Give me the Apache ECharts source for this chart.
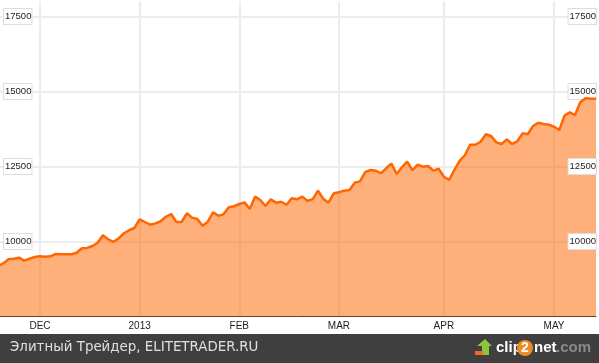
<!DOCTYPE html>
<html>
<head>
<meta charset="utf-8">
<style>
    html, body { margin: 0; padding: 0; background: #fff; }
    #main { width: 599px; height: 363px; }
</style>
<script src="https://cdn.jsdelivr.net/npm/echarts@6/dist/echarts.min.js"></script>
</head>
<body>
<div id="main"></div>
<script>
// index values, one per trading day
var values = [
    9180, 9270, 9405, 9425, 9460, 9360, 9425, 9485, 9505, 9495,
    9505, 9585, 9575, 9575, 9575, 9625, 9775, 9785, 9850, 9960,
    10205, 10075, 9985, 10105, 10275, 10375, 10450, 10740, 10650, 10560,
    10605, 10675, 10825, 10915, 10650, 10650, 10940, 10795, 10750, 10525,
    10660, 10975, 10860, 10905, 11140, 11175, 11250, 11305, 11085, 11495,
    11385, 11185, 11405, 11295, 11325, 11225, 11440, 11405, 11495, 11350,
    11415, 11695, 11425, 11295, 11605, 11640, 11695, 11715, 11960, 12005,
    12315, 12385, 12360, 12275, 12440, 12595, 12250, 12475, 12660, 12375,
    12560, 12495, 12515, 12360, 12425, 12160, 12050, 12385, 12685, 12875,
    13225, 13225, 13325, 13575, 13515, 13305, 13250, 13405, 13250, 13340,
    13605, 13575, 13850, 13960, 13915, 13895, 13825, 13715, 14195, 14305,
    14215, 14640, 14775, 14760, 14760
];
var monthLabels = ['DEC', '2013', 'FEB', 'MAR', 'APR', 'MAY'];
var monthStart = [8, 27, 46, 65, 85, 106];
var footerText = 'Элитный Трейдер, ELITETRADER.RU';

var categories = [];
for (var i = 0; i < values.length; i++) {
    var m = monthStart.indexOf(i);
    categories.push(m >= 0 ? monthLabels[m] : '');
}

function isMonth(index, value) {
    return value !== '';
}

var myChart = echarts.init(document.getElementById('main'));

var labelStyle = {
    inside: true,
    color: '#222',
    fontFamily: 'Liberation Sans',
    fontSize: 9.5,
    backgroundColor: '#fff',
    borderColor: '#ddd',
    borderWidth: 1,
    padding: [3, 0, 2, 1],
    showMinLabel: false,
    showMaxLabel: false,
    // no thousands separator on this chart
    formatter: function(value) {
        return String(value);
    }
};

var option = {
    animation: false,
    backgroundColor: '#fff',
    // outerBoundsMode none: the boxed labels may hang over the plot edge
    grid: { left: -2, top: 1.5, width: 598, height: 315, outerBoundsMode: 'none' },
    xAxis: {
        type: 'category',
        data: categories,
        boundaryGap: false,
        axisLine: { lineStyle: { color: '#333', width: 1 } },
        axisTick: { show: false, interval: isMonth },
        axisLabel: {
            interval: isMonth,
            color: '#222',
            fontFamily: 'Liberation Sans',
            fontSize: 10,
            margin: 5
        },
        splitLine: {
            show: true,
            interval: isMonth,
            lineStyle: { color: '#ececec', width: 2 }
        }
    },
    yAxis: [{
        type: 'value',
        position: 'left',
        min: 7500,
        max: 18000,
        interval: 2500,
        axisLine: { show: false },
        axisTick: { show: false },
        axisLabel: Object.assign({ margin: 6 }, labelStyle),
        splitLine: {
            showMinLine: false,
            showMaxLine: false,
            lineStyle: { color: '#ececec', width: 2 }
        }
    }, {
        type: 'value',
        position: 'right',
        min: 7500,
        max: 18000,
        interval: 2500,
        z: 3,
        axisLine: { show: false },
        axisTick: { show: false },
        axisLabel: Object.assign({ margin: 0 }, labelStyle),
        splitLine: { show: false }
    }],
    series: [{
        type: 'line',
        data: values,
        symbol: 'none',
        lineStyle: { color: '#ff6600', width: 2.5 },
        areaStyle: { color: '#ff6600', opacity: 0.52 }
    }],
    graphic: [
        { type: 'rect', shape: { x: 0, y: 334, width: 599, height: 29 }, style: { fill: '#3f3f3f' } },
        {
            type: 'text', x: 10, y: 341,
            style: {
                text: footerText,
                fill: '#e0e0e0',
                font: '13.4px "DejaVu Sans"'
            }
        },
        // clip2net logo
        {
            type: 'polygon',
            shape: { points: [[477, 346], [485, 339], [492, 346], [489, 346], [489, 355], [482, 355], [482, 346]] },
            style: { fill: '#8cc63f' }
        },
        { type: 'rect', shape: { x: 475, y: 351, width: 8, height: 4 }, style: { fill: '#f26a21' } },
        {
            type: 'text', x: 496, y: 340,
            style: { text: 'clip', fill: '#fff', font: 'bold 15px "Liberation Sans"' }
        },
        { type: 'circle', shape: { cx: 525, cy: 348, r: 8 }, style: { fill: '#f08a24' } },
        {
            type: 'text', x: 521, y: 341,
            style: { text: '2', fill: '#fff', font: 'bold 14px "Liberation Sans"' }
        },
        {
            type: 'text', x: 534, y: 340,
            style: { text: 'net', fill: '#fff', font: 'bold 15px "Liberation Sans"' }
        },
        {
            type: 'text', x: 556, y: 340,
            style: { text: '.com', fill: '#8a8a8a', font: 'bold 15px "Liberation Sans"' }
        }
    ]
};

myChart.setOption(option);
</script>
</body>
</html>
